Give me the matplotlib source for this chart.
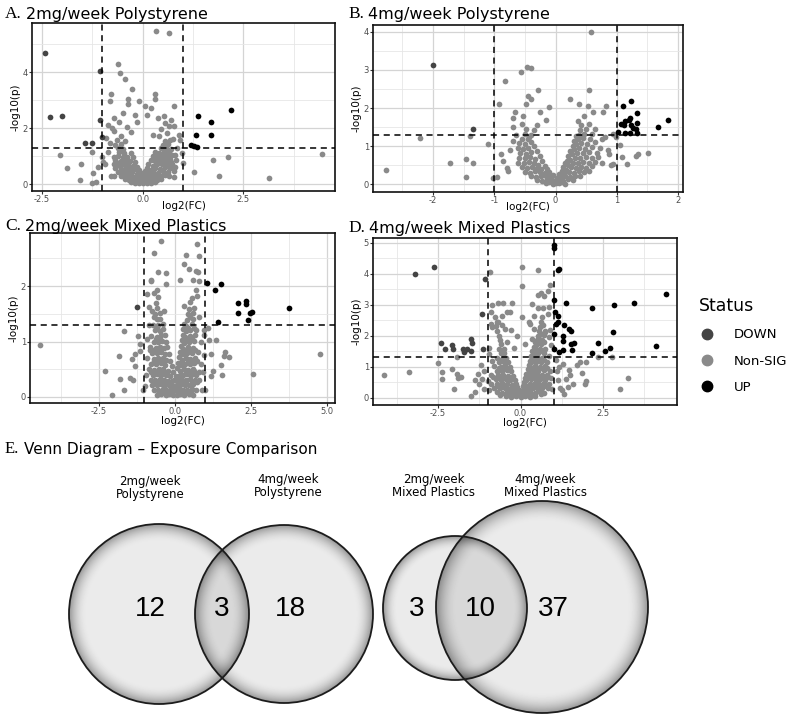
import numpy as np
import matplotlib
matplotlib.use("Agg")
import matplotlib.pyplot as plt
from matplotlib.patches import Circle
from matplotlib.lines import Line2D

plt.rcParams['font.family'] = ['DejaVu Sans']

W, H = 810, 716
fig = plt.figure(figsize=(W / 100, H / 100), dpi=100)

# ---------------- data ----------------
FC_CUT = 1.0
P_CUT = 1.301

# Panel A: 2mg/week Polystyrene
A_down = [(-2.43, 4.67), (-2.31, 2.38), (-2.01, 2.44), (-1.43, 1.46), (-1.25, 1.46),
          (-1.06, 4.04), (-1.06, 2.28), (-1.02, 1.68)]
A_up = [(1.37, 2.42), (1.70, 2.22), (2.19, 2.66), (1.33, 1.76), (1.70, 1.74),
        (1.19, 1.38), (1.27, 1.34), (1.35, 1.32)]
A_ns = [(-2.05, 1.04), (-1.89, 0.56), (-1.52, 0.72), (-1.56, 0.14), (-1.25, 1.16), (-1.23, 0.41),
        (-1.25, 0.05), (-1.15, 0.08), (-1.11, 0.60), (-1.00, 0.98), (-0.98, 0.80), (-0.94, 0.72),
        (2.11, 0.98), (1.75, 0.84), (1.89, 0.29), (1.27, 0.42), (3.14, 0.23), (4.45, 1.08),
        (0.98, 1.10), (1.01, 0.74), (0.94, 1.58), (0.90, 1.76), (0.33, 5.47), (0.66, 5.39),
        (-0.61, 4.30), (-0.57, 3.95), (-0.44, 3.76), (-0.27, 3.38), (-0.78, 3.20), (-0.80, 2.98),
        (-0.37, 3.02), (-0.37, 2.84), (-0.10, 2.98), (0.30, 3.20), (0.30, 3.05), (0.06, 2.78),
        (0.20, 2.72), (0.78, 2.80), (-0.49, 2.54), (-0.70, 2.36), (-0.86, 2.12), (0.37, 2.36),
        (0.53, 2.42), (0.70, 2.30), (0.78, 2.08), (-0.20, 2.48), (-0.53, 1.70), (-0.70, 1.88),
        (-0.90, 1.64), (0.61, 1.82), (0.66, 2.06),
        (-0.30, 0.06), (-0.20, 0.04), (-0.10, 0.05), (0.00, 0.03), (0.10, 0.05), (0.20, 0.04), (0.30, 0.07),
        (-0.45, 0.17), (-0.35, 0.14), (-0.25, 0.16), (-0.15, 0.13), (-0.05, 0.15), (0.05, 0.14),
        (0.15, 0.17), (0.25, 0.15), (0.35, 0.16), (0.45, 0.18),
        (-0.55, 0.30), (-0.42, 0.27), (-0.30, 0.29), (-0.18, 0.26), (-0.08, 0.24), (0.08, 0.25),
        (0.20, 0.28), (0.32, 0.30), (0.45, 0.27), (0.56, 0.31),
        (-0.62, 0.44), (-0.50, 0.41), (-0.38, 0.45), (-0.26, 0.42), (-0.14, 0.37), (0.14, 0.38),
        (0.26, 0.43), (0.38, 0.41), (0.50, 0.45), (0.62, 0.43),
        (-0.68, 0.58), (-0.55, 0.55), (-0.42, 0.59), (-0.30, 0.56), (-0.20, 0.52), (0.20, 0.51),
        (0.31, 0.57), (0.43, 0.55), (0.55, 0.59), (0.67, 0.56), (0.80, 0.60),
        (-0.72, 0.72), (-0.60, 0.69), (-0.48, 0.73), (-0.36, 0.70), (-0.25, 0.66), (0.25, 0.66),
        (0.36, 0.72), (0.48, 0.70), (0.60, 0.74), (0.72, 0.71),
        (-0.68, 0.86), (-0.55, 0.83), (-0.42, 0.87), (-0.31, 0.82), (0.30, 0.81), (0.42, 0.86),
        (0.55, 0.84), (0.68, 0.88), (0.82, 0.85),
        (-0.62, 1.00), (-0.50, 0.97), (-0.38, 0.98), (0.35, 0.96), (0.47, 1.01), (0.60, 0.99), (0.73, 1.02),
        (-0.58, 1.15), (-0.46, 1.12), (0.40, 1.11), (0.52, 1.16), (0.65, 1.14),
        (-0.61, 1.29), (-0.48, 1.26), (0.45, 1.27), (0.58, 1.30), (0.71, 1.26),
        (-0.55, 1.43), (0.50, 1.41), (0.63, 1.44), (-0.68, 1.40),
        (-0.65, 1.57), (0.55, 1.55), (0.69, 1.58), (-0.45, 1.55),
        (-0.75, 2.00), (-0.60, 2.20), (-0.40, 2.05), (-0.30, 1.85), (0.45, 1.95), (0.55, 2.18),
        (0.40, 1.70), (0.75, 1.62), (0.25, 1.75), (-0.15, 2.20), (0.10, 2.45), (-0.80, 1.45),
        (-0.85, 1.15), (0.85, 1.30), (-0.78, 0.30), (0.78, 0.25),
        (-0.04, 0.22), (0.04, 0.30), (-0.06, 0.36), (0.06, 0.45), (-0.10, 0.50), (0.10, 0.58),
        (-0.14, 0.62), (0.14, 0.70), (0.00, 0.40), (-0.20, 0.80), (0.20, 0.85), (-0.25, 0.95),
        (0.25, 1.00), (-0.30, 1.10), (0.30, 1.15), (-0.36, 0.36), (-0.48, 0.50), (-0.56, 0.64),
        (-0.66, 0.78), (0.36, 0.36), (0.48, 0.50), (0.60, 0.64), (0.70, 0.80), (-0.72, 0.95),
        (0.80, 1.05), (0.78, 0.45), (-0.70, 0.30), (0.66, 0.30)]

# Panel B: 4mg/week Polystyrene
B_down = [(-2.00, 3.13), (-1.35, 1.46)]
B_up = [(1.10, 2.05), (1.23, 2.19), (1.07, 1.58), (1.12, 1.56), (1.14, 1.67), (1.20, 1.68),
        (1.21, 1.74), (1.23, 1.56), (1.26, 1.49), (1.33, 1.86), (1.33, 1.60), (1.32, 1.45),
        (1.33, 1.34), (1.13, 1.36), (1.02, 1.38), (1.68, 1.51), (1.83, 1.69), (1.21, 1.36)]
B_ns = [(-2.76, 0.37), (-2.22, 1.21), (-1.73, 0.57), (-1.47, 0.66), (-1.35, 0.57), (-1.46, 0.19),
        (-1.10, 1.07), (-1.39, 1.27), (-1.02, 0.16), (-0.92, 2.12), (-0.83, 2.72), (-0.89, 0.79),
        (-0.80, 0.44), (-0.56, 2.94), (-0.47, 3.07), (-0.40, 3.05), (-0.45, 2.32), (-0.40, 2.24),
        (-0.29, 2.47), (-0.10, 2.02), (0.23, 2.25), (0.54, 2.47), (0.58, 3.99), (-0.70, 1.74),
        (-0.67, 1.89), (-0.53, 1.80), (-0.48, 2.10), (0.39, 2.10), (0.53, 2.06), (0.61, 1.89),
        (0.77, 1.89), (0.83, 2.06), (0.47, 1.80), (0.36, 1.67), (-0.16, 1.68), (-0.26, 1.89),
        (1.05, 1.04), (1.09, 0.72), (1.16, 0.54), (1.32, 0.75), (1.34, 0.79), (1.51, 0.83),
        (0.93, 0.54), (0.88, 0.79), (0.80, 1.25), (0.93, 1.32), (0.99, 1.23),
        (-0.15, 0.03), (-0.10, 0.06), (-0.05, 0.02), (0.00, 0.04), (0.05, 0.03), (0.10, 0.05), (0.15, 0.02),
        (-0.30, 0.12), (-0.22, 0.10), (-0.14, 0.13), (-0.06, 0.11), (0.04, 0.12), (0.12, 0.10),
        (0.20, 0.13), (0.28, 0.11),
        (-0.40, 0.22), (-0.32, 0.20), (-0.24, 0.23), (-0.16, 0.21), (-0.09, 0.19), (0.09, 0.19),
        (0.16, 0.22), (0.24, 0.20), (0.32, 0.23), (0.40, 0.21),
        (-0.50, 0.33), (-0.42, 0.31), (-0.34, 0.34), (-0.26, 0.32), (-0.18, 0.29), (0.14, 0.28),
        (0.22, 0.33), (0.30, 0.31), (0.38, 0.34), (0.46, 0.32), (0.55, 0.35),
        (-0.55, 0.45), (-0.47, 0.43), (-0.39, 0.46), (-0.31, 0.44), (-0.23, 0.40), (0.17, 0.39),
        (0.25, 0.45), (0.33, 0.43), (0.41, 0.46), (0.50, 0.44), (0.60, 0.47),
        (-0.62, 0.57), (-0.52, 0.55), (-0.44, 0.58), (-0.36, 0.56), (-0.28, 0.52), (0.20, 0.51),
        (0.28, 0.57), (0.36, 0.55), (0.44, 0.58), (0.54, 0.56), (0.65, 0.59), (0.75, 0.56),
        (-0.60, 0.70), (-0.50, 0.68), (-0.42, 0.71), (-0.33, 0.66), (0.24, 0.65), (0.32, 0.70),
        (0.40, 0.68), (0.50, 0.71), (0.60, 0.69), (0.70, 0.72),
        (-0.58, 0.82), (-0.48, 0.80), (-0.40, 0.84), (0.27, 0.79), (0.35, 0.83), (0.45, 0.81),
        (0.55, 0.84), (0.68, 0.82),
        (-0.62, 0.95), (-0.53, 0.93), (-0.45, 0.96), (0.30, 0.92), (0.38, 0.96), (0.48, 0.94),
        (0.60, 0.97), (0.72, 0.95),
        (-0.60, 1.08), (-0.50, 1.06), (0.33, 1.05), (0.42, 1.09), (0.52, 1.07), (0.65, 1.10),
        (-0.55, 1.20), (-0.45, 1.18), (0.36, 1.18), (0.45, 1.21), (0.56, 1.19),
        (-0.50, 1.32), (-0.40, 1.30), (0.38, 1.30), (0.47, 1.33), (0.60, 1.31),
        (-0.48, 1.45), (-0.35, 1.43), (0.40, 1.42), (0.50, 1.46),
        (-0.55, 1.58), (-0.30, 1.56), (0.42, 1.55), (0.55, 1.59),
        (-0.75, 0.90), (-0.85, 0.60), (-0.78, 0.35), (-0.95, 0.20), (0.85, 0.90), (0.90, 0.50),
        (0.75, 1.20), (-0.70, 1.50), (-0.65, 1.30), (0.65, 1.45), (-0.70, 1.15),
        (-0.02, 0.10), (0.02, 0.18), (-0.05, 0.25), (0.06, 0.28), (-0.10, 0.33), (0.10, 0.36),
        (-0.14, 0.40), (0.12, 0.45), (-0.18, 0.48), (0.15, 0.55), (-0.22, 0.60), (0.18, 0.62),
        (-0.26, 0.75), (0.21, 0.75), (-0.30, 0.88), (0.24, 0.88), (0.28, 1.00), (-0.35, 1.00),
        (0.30, 1.15), (-0.40, 1.12), (0.34, 1.28), (-0.44, 1.25)]

# Panel C: 2mg/week Mixed Plastics
C_down = [(-1.25, 1.62)]
C_up = [(1.06, 2.05), (1.50, 2.04), (1.32, 1.93), (2.07, 1.69), (2.07, 1.52), (2.33, 1.74),
        (2.33, 1.67), (2.46, 1.52), (2.52, 1.54), (2.39, 1.38), (1.40, 1.35), (3.75, 1.60)]
C_ns = [(-4.44, 0.94), (-2.29, 0.46), (-2.06, 0.04), (-1.82, 0.74), (-1.79, 0.33), (-1.68, 0.12),
        (-1.68, 1.19), (-1.46, 0.35), (-1.38, 0.31), (-1.42, 0.69), (-1.30, 0.55), (-1.31, 0.77),
        (-1.22, 1.10), (-1.16, 0.95), (-1.13, 0.83), (-1.05, 0.12), (-0.45, 2.82), (-0.69, 2.60),
        (-0.56, 2.25), (-0.78, 2.12), (-0.80, 2.09), (-0.28, 2.23), (-0.28, 2.03), (-0.58, 1.93),
        (-0.67, 1.88), (0.71, 2.76), (0.37, 2.57), (0.80, 2.54), (0.31, 2.40), (0.46, 2.31),
        (0.69, 2.28), (0.75, 2.25), (0.58, 2.11), (0.80, 2.09), (0.18, 2.11), (0.69, 1.93),
        (0.73, 1.83), (-0.84, 1.63), (-0.91, 1.85),
        (1.08, 1.24), (1.13, 1.02), (1.35, 1.03), (1.19, 0.77), (1.24, 0.46), (1.19, 0.37),
        (1.50, 0.58), (1.54, 0.39), (1.66, 0.81), (1.79, 0.72), (1.60, 0.74), (2.55, 0.41),
        (4.77, 0.77), (0.88, 0.12), (0.99, 0.12), (0.97, 1.20), (0.95, 1.11),
        (-0.60, 0.04), (-0.45, 0.05), (-0.30, 0.03), (-0.18, 0.05), (-0.06, 0.04), (0.06, 0.03),
        (0.18, 0.05), (0.30, 0.04), (0.45, 0.06), (0.60, 0.04),
        (-0.70, 0.13), (-0.55, 0.12), (-0.40, 0.14), (-0.28, 0.12), (-0.16, 0.13), (-0.05, 0.11),
        (0.05, 0.12), (0.16, 0.14), (0.28, 0.13), (0.40, 0.12), (0.55, 0.14), (0.70, 0.13),
        (-0.75, 0.22), (-0.60, 0.21), (-0.45, 0.23), (-0.32, 0.22), (-0.20, 0.21), (-0.08, 0.20),
        (0.08, 0.21), (0.20, 0.23), (0.32, 0.22), (0.45, 0.21), (0.60, 0.23),
        (-0.80, 0.31), (-0.65, 0.30), (-0.50, 0.32), (-0.36, 0.31), (-0.22, 0.29), (-0.10, 0.28),
        (0.10, 0.28), (0.22, 0.31), (0.36, 0.30), (0.50, 0.32), (0.65, 0.31), (0.80, 0.30),
        (-0.72, 0.40), (-0.58, 0.41), (-0.44, 0.39), (-0.30, 0.40), (-0.15, 0.37), (0.12, 0.37),
        (0.26, 0.40), (0.40, 0.41), (0.54, 0.39), (0.70, 0.40),
        (-0.85, 0.50), (-0.68, 0.49), (-0.52, 0.51), (-0.38, 0.50), (-0.24, 0.47), (0.16, 0.47),
        (0.30, 0.50), (0.44, 0.49), (0.58, 0.51),
        (-0.78, 0.60), (-0.62, 0.59), (-0.47, 0.61), (-0.32, 0.58), (0.20, 0.57), (0.34, 0.60),
        (0.48, 0.59), (0.62, 0.61), (0.85, 0.60),
        (-0.90, 0.70), (-0.70, 0.69), (-0.55, 0.71), (-0.40, 0.70), (-0.28, 0.67), (0.22, 0.67),
        (0.36, 0.70), (0.50, 0.69), (0.66, 0.71),
        (-0.75, 0.80), (-0.60, 0.79), (-0.46, 0.81), (-0.33, 0.78), (0.25, 0.77), (0.40, 0.80),
        (0.55, 0.79), (0.75, 0.81),
        (-0.82, 0.90), (-0.62, 0.89), (-0.48, 0.91), (-0.36, 0.88), (0.28, 0.87), (0.42, 0.90), (0.58, 0.89),
        (-0.70, 1.00), (-0.55, 0.99), (-0.42, 1.01), (0.30, 0.98), (0.45, 1.00), (0.62, 1.01), (0.85, 0.99),
        (-0.78, 1.10), (-0.60, 1.09), (-0.45, 1.11), (0.32, 1.08), (0.48, 1.10), (0.66, 1.11),
        (-0.65, 1.20), (-0.50, 1.19), (0.35, 1.19), (0.50, 1.21), (0.70, 1.20),
        (-0.72, 1.30), (-0.55, 1.29), (0.38, 1.28), (0.55, 1.31),
        (-0.60, 1.40), (-0.48, 1.41), (0.40, 1.39), (0.58, 1.41),
        (-0.65, 1.50), (-0.50, 1.51), (0.42, 1.49), (0.60, 1.52),
        (-0.58, 1.60), (0.45, 1.59), (0.62, 1.61),
        (-0.62, 1.70), (0.50, 1.71), (-0.55, 1.80), (0.55, 1.79),
        (-0.95, 0.40), (-0.98, 0.20), (0.92, 0.45), (0.95, 0.75), (-0.92, 1.05), (-0.85, 1.30),
        (0.80, 1.45), (-0.75, 1.55), (0.30, 1.65), (-0.35, 1.55),
        (0.00, 0.20), (-0.02, 0.30), (0.03, 0.38), (-0.05, 0.45), (0.06, 0.52), (-0.10, 0.55),
        (0.10, 0.62), (-0.15, 0.65), (0.14, 0.72), (-0.20, 0.78), (0.18, 0.82), (-0.25, 0.90),
        (0.20, 0.92), (-0.30, 1.00), (0.22, 1.02), (-0.33, 1.12), (0.25, 1.12), (-0.38, 1.22),
        (0.28, 1.22), (-0.40, 1.32), (0.30, 1.32),
        (-0.52, 0.08), (-0.36, 0.09), (-0.24, 0.08), (-0.12, 0.08), (0.12, 0.08), (0.24, 0.09),
        (0.36, 0.08), (0.52, 0.09),
        (-0.68, 0.27), (-0.52, 0.26), (-0.38, 0.27), (-0.26, 0.26), (0.26, 0.26), (0.38, 0.27),
        (0.56, 0.26), (0.72, 0.27),
        (-0.80, 0.45), (-0.64, 0.45), (-0.50, 0.46), (-0.36, 0.45), (0.36, 0.45), (0.50, 0.45),
        (0.64, 0.46), (0.80, 0.45),
        (-0.70, 0.64), (-0.54, 0.65), (-0.40, 0.64), (0.42, 0.65), (0.56, 0.64), (0.74, 0.65),
        (-0.82, 0.84), (-0.68, 0.85), (-0.54, 0.84), (0.34, 0.84), (0.50, 0.85), (0.66, 0.84),
        (-0.62, 1.05), (-0.50, 1.05), (0.40, 1.05), (0.56, 1.04),
        (-0.58, 1.25), (0.44, 1.25), (0.62, 1.25), (-0.68, 1.45), (0.50, 1.44)]

# Panel D: 4mg/week Mixed Plastics
D_down = [(-2.62, 4.22), (-3.19, 3.98), (-2.40, 1.78), (-2.28, 1.56), (-2.07, 1.70), (-2.04, 1.59),
          (-1.73, 1.59), (-1.70, 1.48), (-1.63, 1.57), (-1.50, 1.89), (-1.48, 1.78), (-1.51, 1.50),
          (-1.17, 2.69), (-1.07, 3.82), (-1.15, 1.59)]
D_up = [(1.02, 4.94), (1.00, 4.83), (1.12, 4.11), (1.15, 4.16), (1.02, 3.14), (1.38, 3.06),
        (1.05, 2.75), (1.12, 2.64), (1.07, 2.39), (1.12, 2.45), (1.02, 2.07), (1.33, 2.34),
        (1.48, 2.23), (1.53, 2.15), (1.30, 2.00), (1.30, 1.82), (1.53, 1.72), (1.63, 1.77),
        (1.56, 1.53), (1.28, 1.53), (1.17, 1.48), (1.02, 1.56), (2.16, 2.88), (2.36, 1.78),
        (2.17, 1.43), (2.57, 1.50), (2.72, 1.62), (2.81, 2.12), (2.84, 3.00), (3.44, 3.04),
        (4.11, 1.67), (4.42, 3.33)]
D_ns = [(-4.13, 0.75), (-3.39, 0.84), (-2.50, 1.11), (-2.38, 0.84), (-2.38, 0.60), (-2.07, 0.94),
        (-2.01, 0.30), (-1.94, 0.78), (-1.94, 1.32), (-1.89, 0.64), (-1.79, 0.68), (-1.50, 0.06),
        (-1.38, 0.19), (-1.38, 0.57), (-1.28, 0.78), (-1.19, 1.07), (-1.17, 0.62), (-0.92, 4.06),
        (-0.85, 2.98), (-0.68, 3.07), (-0.54, 3.07), (-0.26, 3.07), (0.03, 4.22), (0.03, 3.61),
        (0.54, 4.13), (0.90, 3.63), (0.82, 3.43), (0.61, 3.39), (0.54, 3.30), (0.72, 3.28),
        (0.34, 3.01), (0.54, 2.88), (0.68, 2.88), (0.87, 2.93), (0.82, 2.71), (-0.41, 2.78),
        (-0.31, 2.77), (-0.89, 2.77), (-0.89, 2.39), (-0.85, 2.29), (-0.68, 2.45), (-0.56, 2.34),
        (-0.46, 2.23), (0.28, 2.39), (0.41, 2.23), (0.64, 2.36), (0.74, 2.12), (0.87, 1.96),
        (0.56, 1.91), (0.92, 1.70),
        (1.07, 1.21), (1.17, 1.00), (1.12, 0.57), (1.19, 0.32), (1.38, 0.62), (1.48, 0.89),
        (1.50, 0.73), (1.70, 1.05), (1.79, 1.16), (1.97, 1.14), (1.97, 0.55), (1.94, 0.46),
        (2.76, 1.32), (3.01, 0.30), (3.25, 0.64), (2.35, 1.32), (1.43, 0.35), (1.33, 0.14),
        (-0.45, 0.05), (-0.30, 0.04), (-0.15, 0.06), (0.00, 0.03), (0.15, 0.05), (0.30, 0.04), (0.45, 0.06),
        (-0.70, 0.18), (-0.55, 0.17), (-0.40, 0.19), (-0.26, 0.16), (-0.12, 0.15), (0.02, 0.14),
        (0.16, 0.17), (0.30, 0.18), (0.44, 0.16), (0.58, 0.19), (0.72, 0.17),
        (-0.80, 0.32), (-0.62, 0.31), (-0.48, 0.33), (-0.34, 0.30), (-0.20, 0.28), (-0.06, 0.26),
        (0.10, 0.27), (0.24, 0.31), (0.38, 0.32), (0.52, 0.30), (0.66, 0.33), (0.82, 0.31),
        (-0.88, 0.46), (-0.70, 0.45), (-0.55, 0.47), (-0.40, 0.44), (-0.26, 0.42), (0.14, 0.41),
        (0.28, 0.45), (0.42, 0.46), (0.56, 0.44), (0.70, 0.47), (0.85, 0.45),
        (-0.75, 0.60), (-0.60, 0.59), (-0.45, 0.61), (-0.32, 0.57), (0.18, 0.56), (0.32, 0.60),
        (0.46, 0.59), (0.60, 0.61), (0.75, 0.59),
        (-0.90, 0.74), (-0.68, 0.73), (-0.52, 0.75), (-0.38, 0.71), (0.22, 0.70), (0.36, 0.74),
        (0.50, 0.73), (0.64, 0.75), (0.80, 0.73),
        (-0.72, 0.88), (-0.56, 0.87), (-0.42, 0.89), (0.26, 0.85), (0.40, 0.88), (0.54, 0.87),
        (0.70, 0.89), (0.90, 0.87),
        (-0.80, 1.02), (-0.60, 1.01), (-0.46, 1.03), (0.30, 1.00), (0.44, 1.02), (0.58, 1.01), (0.74, 1.03),
        (-0.65, 1.16), (-0.50, 1.15), (0.33, 1.14), (0.47, 1.17), (0.62, 1.15), (0.80, 1.16),
        (-0.70, 1.30), (-0.54, 1.29), (0.36, 1.28), (0.50, 1.31), (0.66, 1.29),
        (-0.60, 1.44), (0.40, 1.43), (0.54, 1.45), (0.70, 1.44),
        (-0.65, 1.58), (-0.50, 1.57), (0.43, 1.57), (0.58, 1.59), (0.75, 1.58),
        (-0.58, 1.72), (0.46, 1.71), (0.62, 1.73),
        (-0.62, 1.86), (0.50, 1.85), (0.66, 1.87),
        (-0.66, 2.00), (0.53, 1.99), (0.70, 2.01),
        (-0.70, 2.15), (0.56, 2.14), (0.74, 2.16),
        (-0.75, 2.30), (0.60, 2.29), (-0.72, 2.45), (0.63, 2.44), (-0.78, 2.60), (0.66, 2.59),
        (-0.95, 0.25), (-1.00, 0.55), (0.95, 0.30), (0.92, 0.65), (-0.85, 1.20), (0.85, 1.35),
        (-0.40, 1.80), (0.35, 1.90), (-0.30, 2.20), (0.25, 2.45), (-0.95, 1.60), (0.90, 2.20),
        (0.00, 0.12), (-0.05, 0.20), (0.05, 0.22), (-0.10, 0.34), (0.08, 0.38), (-0.14, 0.46),
        (0.10, 0.50), (-0.18, 0.58), (0.14, 0.64), (-0.22, 0.72), (0.18, 0.78), (-0.28, 0.85),
        (0.22, 0.92), (-0.32, 1.00), (0.26, 1.06), (-0.38, 1.14), (0.30, 1.20), (0.33, 1.35),
        (0.36, 1.50), (0.40, 1.65), (0.44, 1.80), (-0.45, 1.30), (-0.50, 1.45),
        (-0.62, 0.10), (-0.38, 0.11), (-0.22, 0.10), (0.22, 0.11), (0.38, 0.10), (0.62, 0.11),
        (-0.72, 0.39), (-0.58, 0.39), (-0.44, 0.38), (0.36, 0.38), (0.50, 0.39), (0.64, 0.38),
        (0.78, 0.39), (-0.82, 0.66), (-0.66, 0.67), (-0.52, 0.66), (0.40, 0.66), (0.54, 0.67),
        (0.68, 0.66), (0.84, 0.66), (-0.64, 0.95), (-0.50, 0.95), (0.36, 0.94), (0.50, 0.95),
        (0.64, 0.95), (0.80, 0.95), (-0.58, 1.23), (0.42, 1.22), (0.56, 1.23), (0.72, 1.22),
        (-0.55, 1.51), (0.50, 1.51), (0.66, 1.51), (0.56, 1.79), (0.70, 1.79), (0.62, 2.07),
        (0.68, 2.36), (-1.10, 0.30), (-1.25, 0.45), (-1.12, 0.85), (-0.95, 1.40), (-0.20, 1.60),
        (0.15, 1.75), (-0.10, 2.00), (0.05, 2.60), (-0.55, 2.65), (0.40, 2.65), (1.10, 0.85),
        (1.25, 0.25), (1.60, 0.45), (1.85, 0.80), (1.30, 1.10)]

# Venn diagram data
venn_ps_labels = ["2mg/week\nPolystyrene", "4mg/week\nPolystyrene"]
venn_ps_counts = [12, 3, 18]          # only 2mg, shared, only 4mg
venn_mp_labels = ["2mg/week\nMixed Plastics", "4mg/week\nMixed Plastics"]
venn_mp_counts = [3, 10, 37]

status_labels = ["DOWN", "Non-SIG", "UP"]
status_colors = ["#444444", "#8a8a8a", "#000000"]

# ---------------- helpers ----------------
def ax_at(l, t, r, b):
    return fig.add_axes([l / W, 1 - b / H, (r - l) / W, (b - t) / H])


def volcano(ax, ns, down, up, xlim, ylim, xmaj, xlabels, xmin, ymaj, ymin, hpx, xlab_off):
    ax.set_xlim(xlim)
    ax.set_ylim(ylim)
    ax.set_xticks(xmaj)
    ax.set_xticklabels(xlabels)
    ax.set_xticks(xmin, minor=True)
    ax.set_yticks(ymaj)
    ax.set_yticks(ymin, minor=True)
    ax.grid(True, which='major', color='#d4d4d4', lw=0.9)
    ax.grid(True, which='minor', color='#e6e6e6', lw=0.6)
    ax.set_axisbelow(True)
    ax.tick_params(which='minor', length=0)
    ax.tick_params(which='major', length=2.0, width=0.8, color='#333333',
                   labelsize=6, labelcolor='#4d4d4d', pad=0.8)
    for s in ax.spines.values():
        s.set_color('#111111')
        s.set_linewidth(1.2)
    for pts, c in ((ns, status_colors[1]), (down, status_colors[0]), (up, status_colors[2])):
        x, y = zip(*pts)
        ax.scatter(x, y, s=17, c=c, linewidths=0, zorder=2)
    dash = (0, (4, 3))
    ax.axvline(-FC_CUT, color='black', lw=1.1, ls=dash, zorder=3)
    ax.axvline(FC_CUT, color='black', lw=1.1, ls=dash, zorder=3)
    ax.axhline(P_CUT, color='black', lw=1.1, ls=dash, zorder=3)
    ax.set_xlabel('log2(FC)', fontsize=7.5)
    ax.xaxis.set_label_coords(0.5, -xlab_off / hpx)
    ax.set_ylabel('-log10(p)', fontsize=7.5, labelpad=1.5)


def panel_title(ax, x, y, letter, text, size=11.5):
    t = fig.text(x / W, 1 - y / H, letter, family='Liberation Serif', fontsize=size + 1,
                 va='baseline', ha='left')
    ax.annotate(text, xy=(1, 0), xycoords=t, xytext=(3, 0), textcoords='offset points',
                va='bottom', ha='left', fontsize=size, annotation_clip=False)


# ---------------- volcano panels ----------------
axA = ax_at(32, 23, 335, 191)
volcano(axA, A_ns, A_down, A_up, (-2.75, 4.78), (-0.25, 5.75),
        [-2.5, 0, 2.5], ["-2.5", "0.0", "2.5"], [-1.25, 1.25, 3.75],
        [0, 2, 4], [1, 3, 5], 168, 10)
panel_title(axA, 5, 18, "A.", "2mg/week Polystyrene")

axB = ax_at(373, 25, 683, 192)
volcano(axB, B_ns, B_down, B_up, (-2.98, 2.08), (-0.2, 4.18),
        [-2, -1, 0, 1, 2], ["-2", "-1", "0", "1", "2"], [-2.5, -1.5, -0.5, 0.5, 1.5],
        [0, 1, 2, 3, 4], [0.5, 1.5, 2.5, 3.5], 167, 10)
panel_title(axB, 348, 18, "B.", "4mg/week Polystyrene")

axC = ax_at(30, 233, 335, 403)
volcano(axC, C_ns, C_down, C_up, (-4.76, 5.26), (-0.11, 2.96),
        [-2.5, 0, 2.5, 5.0], ["-2.5", "0.0", "2.5", "5.0"], [-3.75, -1.25, 1.25, 3.75],
        [0, 1, 2], [0.5, 1.5, 2.5], 170, 13)
panel_title(axC, 5, 230, "C.", "2mg/week Mixed Plastics")

axD = ax_at(373, 238, 677, 405)
volcano(axD, D_ns, D_down, D_up, (-4.47, 4.74), (-0.23, 5.15),
        [-2.5, 0, 2.5], ["-2.5", "0.0", "2.5"], [-3.75, -1.25, 1.25, 3.75],
        [0, 1, 2, 3, 4, 5], [0.5, 1.5, 2.5, 3.5, 4.5], 167, 13)
panel_title(axD, 348, 232, "D.", "4mg/week Mixed Plastics")

# legend
handles = [Line2D([], [], ls='none', marker='o', ms=7.5, mfc=c, mec=c) for c in status_colors]
fig.legend(handles, status_labels, title="Status", loc='upper left',
           bbox_to_anchor=(694 / W, 1 - 292 / H), frameon=False, fontsize=9.5,
           title_fontsize=12.5, alignment='left', labelspacing=1.0,
           handlelength=1.2, handletextpad=1.4, borderaxespad=0)

# ---------------- Venn diagrams ----------------
vax = fig.add_axes([0, 0, 1, (H - 460) / H])
vax.set_xlim(0, W)
vax.set_ylim(H, 460)
vax.axis('off')

circles = [(159, 614, 90), (284, 614, 89), (455, 608, 72), (542, 607, 106)]
gx, gy = np.meshgrid(np.arange(W) + 0.5, np.arange(460, H) + 0.5)
img = np.ones_like(gx)
for cx, cy, r in circles:
    d = np.hypot(gx - cx, gy - cy) / r
    dark = np.where(d <= 1.0, 0.08 + 0.34 * np.clip((d - 0.80) / 0.20, 0, 1) ** 2, 0.0)
    img *= 1 - dark
vax.imshow(img, cmap='gray', vmin=0, vmax=1, extent=(0, W, H, 460), origin='upper',
           interpolation='bilinear', aspect='auto', zorder=1)
for cx, cy, r in circles:
    vax.add_patch(Circle((cx, cy), r, fill=False, ec='#1c1c1c', lw=1.3, zorder=2))

for (x, y), lab in zip([(150, 488), (288, 486)], venn_ps_labels):
    vax.text(x, y, lab, ha='center', va='center', fontsize=8.5, linespacing=1.05)
for (x, y), lab in zip([(434, 486), (545, 486)], venn_mp_labels):
    vax.text(x, y, lab, ha='center', va='center', fontsize=8.5, linespacing=1.05)
for x, n in zip([150, 222, 290], venn_ps_counts):
    vax.text(x, 609, str(n), ha='center', va='center', fontsize=20, family='Liberation Sans')
for x, n in zip([417, 480, 553], venn_mp_counts):
    vax.text(x, 609, str(n), ha='center', va='center', fontsize=20, family='Liberation Sans')

panel_title(axA, 5, 453, "E.", "Venn Diagram \u2013 Exposure Comparison", size=11)

fig.savefig("out.png", dpi=100)
